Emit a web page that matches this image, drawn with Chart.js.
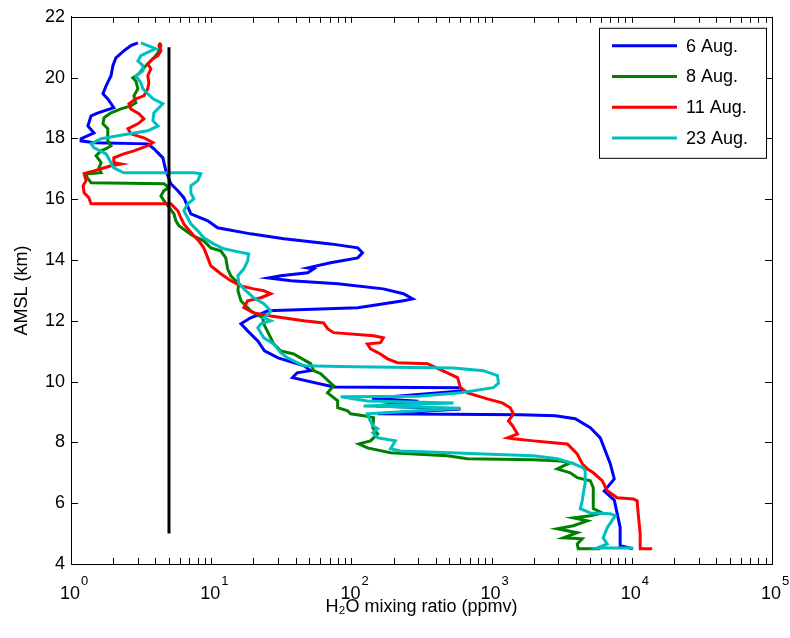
<!DOCTYPE html>
<html>
<head>
<meta charset="utf-8">
<script src="https://cdn.jsdelivr.net/npm/chart.js@4.4.1/dist/chart.umd.min.js"></script>
<style>
  html, body { margin: 0; padding: 0; background: #fff; }
  #wrap { width: 790px; height: 638px; }
</style>
</head>
<body>
<div id="wrap"><canvas id="profileChart" width="790" height="638"></canvas></div>
<script>
// series labels (legend)
const seriesLabels = ['6 Aug.', '8 Aug.', '11 Aug.', '23 Aug.'];

// 6 Aug. profile: H2O (ppmv) vs altitude (km)
const aug6X = [10200, 8260, 8260, 7500, 6360, 7500, 7020, 5960, 5060, 3950, 2850, 1600, 154, 600, 150, 300, 140, 640, 600, 75,
  38, 41, 51, 46, 30, 24, 21.5, 18.2, 16.3, 19.1, 22.6, 25.3, 111, 235, 273, 235, 169, 80, 37, 25.7,
  31.3, 48.8, 53.8, 48.8, 71, 111, 120, 111, 71, 33, 19.1, 11.1, 9.46, 7.16, 6.38, 5.78, 5.15, 4.75, 4.52, 3.9,
  3.53, 1.46, 1.18, 1.18, 1.46, 1.32, 1.39, 1.56, 2.02, 1.83, 1.69, 1.78, 1.93, 1.99, 2.09, 2.38, 2.67, 3.0];
const aug6Y = [4.5, 4.6, 5.2, 6.1, 6.4, 6.8, 7.3, 8.15, 8.48, 8.78, 8.88, 8.91, 8.94, 9.1, 9.2, 9.35, 9.45, 9.7, 9.8, 9.82,
  10.13, 10.29, 10.36, 10.52, 10.78, 11.01, 11.34, 11.67, 11.9, 12.1, 12.23, 12.33, 12.43, 12.66, 12.72, 12.89, 13.05, 13.22, 13.32, 13.41,
  13.48, 13.58, 13.71, 13.74, 13.91, 14.07, 14.24, 14.4, 14.53, 14.7, 14.86, 15.06, 15.29, 15.52, 16.05, 16.28, 16.51, 16.93, 17.36, 17.66,
  17.82, 17.86, 17.92, 17.99, 18.18, 18.41, 18.74, 18.84, 19.01, 19.3, 19.47, 19.73, 20.06, 20.39, 20.65, 20.88, 21.05, 21.14];

// 8 Aug. profile
const aug8X = [5960, 4150, 4080, 4430, 3250, 4080, 2940, 3830, 4810, 3830, 5060, 6150, 5310, 5310, 5310, 5060, 4080, 3640, 2940, 3250,
  3640, 3090, 1990, 673, 484, 190, 130, 113, 137, 154, 142, 144, 122, 98.7, 94, 79.8, 79.8, 67.6, 74.7, 60.4,
  53.8, 51.2, 38.7, 31.3, 27.9, 26.6, 23.7, 23.3, 19.1, 16.3, 15.5, 15.7, 13.8, 13.1, 12.7, 11.7, 9.93, 8.85, 7.39, 6.59,
  5.88, 5.6, 5.42, 4.6, 4.38, 4.6, 4.99, 4.6, 1.39, 1.28, 1.32, 1.64, 1.58, 1.64, 1.51, 1.64, 1.78, 1.93, 1.83, 1.83,
  1.83, 1.69, 1.72, 1.93, 2.27, 2.67, 2.9, 2.81, 3.0, 2.9, 2.76, 3.05, 3.26, 3.59, 3.9, 4.17, 4.38, 4.24];
const aug8Y = [4.5, 4.5, 4.66, 4.83, 4.86, 5.03, 5.16, 5.26, 5.42, 5.52, 5.59, 5.68, 5.82, 6.08, 6.51, 6.74, 6.84, 7.0, 7.13, 7.23,
  7.33, 7.39, 7.43, 7.46, 7.56, 7.66, 7.82, 7.95, 8.05, 8.28, 8.48, 8.81, 8.88, 8.94, 9.04, 9.14, 9.37, 9.63, 9.86, 10.26,
  10.36, 10.59, 10.91, 11.01, 11.24, 11.44, 11.9, 12.1, 12.33, 12.66, 12.99, 13.22, 13.48, 13.71, 14.07, 14.3, 14.4, 14.63, 14.8, 14.96,
  15.13, 15.29, 15.52, 15.95, 16.11, 16.28, 16.38, 16.51, 16.54, 16.77, 16.84, 16.87, 17.03, 17.2, 17.43, 17.59, 17.66, 17.76, 17.92, 18.15,
  18.32, 18.48, 18.68, 18.84, 18.97, 19.07, 19.17, 19.4, 19.63, 19.89, 19.99, 20.13, 20.29, 20.49, 20.65, 20.82, 21.05, 21.14];

// 11 Aug. profile
const aug11X = [13970, 11480, 11480, 11110, 10920, 10230, 7870, 6680, 6150, 5310, 4810, 4430, 4080, 3470, 2760, 1990, 1430, 1300, 1530, 1410,
  1320, 1430, 1360, 1190, 933, 673, 600, 571, 484, 349, 213, 181, 161, 137, 130, 161, 169, 144, 74.7, 67.6,
  63.4, 45.7, 26.6, 20.1, 17.1, 18.2, 22.6, 26.6, 23.7, 20.1, 16.3, 13.8, 11.7, 9.93, 9.46, 8.85, 8.16, 7.52, 6.81, 6.38,
  6.07, 5.78, 5.33, 5.15, 1.39, 1.34, 1.24, 1.22, 1.28, 1.24, 1.46, 1.64, 1.93, 2.27, 2.02, 2.02, 2.38, 2.81, 3.53, 3.84,
  3.31, 2.67, 2.55, 3.0, 3.31, 3.05, 2.67, 2.59, 2.9, 3.31, 3.53, 3.59, 3.53, 3.71, 3.53, 3.84, 4.17, 4.38, 4.24, 4.38];
const aug11Y = [4.5, 4.5, 4.99, 5.65, 6.08, 6.14, 6.18, 6.41, 6.74, 7.0, 7.13, 7.3, 7.62, 7.95, 7.99, 8.05, 8.12, 8.15, 8.28, 8.55,
  8.71, 8.94, 9.14, 9.3, 9.43, 9.63, 9.8, 10.13, 10.29, 10.59, 10.62, 10.75, 10.91, 11.08, 11.24, 11.28, 11.44, 11.51, 11.61, 11.74,
  11.93, 12.0, 12.16, 12.26, 12.43, 12.66, 12.76, 12.89, 12.99, 13.05, 13.15, 13.32, 13.55, 13.81, 14.07, 14.4, 14.63, 14.8, 15.03, 15.19,
  15.39, 15.62, 15.78, 15.85, 15.85, 16.05, 16.21, 16.44, 16.61, 16.84, 16.93, 17.0, 17.1, 17.16, 17.2, 17.36, 17.49, 17.59, 17.76, 17.86,
  18.02, 18.15, 18.32, 18.48, 18.64, 18.81, 18.97, 19.14, 19.3, 19.4, 19.63, 19.83, 20.06, 20.29, 20.45, 20.62, 20.72, 20.88, 21.05, 21.14];

// 23 Aug. profile
const aug23X = [10230, 5670, 6680, 6250, 6680, 7620, 7020, 5060, 4290, 4430, 4510, 4650, 4650, 4510, 3830, 2940, 1990, 874, 509, 224,
  190, 206, 169, 154, 142, 154, 142, 133, 130, 161, 600, 311, 122, 535, 130, 84, 300, 600, 1030, 1120,
  1100, 874, 535, 104, 45.7, 35.1, 31.3, 27.9, 23.7, 21.5, 22.6, 26.6, 23.7, 25.3, 26.6, 23.7, 20.1, 17.1, 15.7, 15.5,
  17.1, 18.2, 18.5, 16.3, 12.3, 10.4, 8.85, 8.03, 7.16, 6.38, 6.81, 7.52, 7.16, 7.16, 8.03, 8.43, 7.52, 2.38, 2.02, 1.93,
  1.78, 1.46, 1.39, 1.64, 2.38, 3.53, 4.17, 3.84, 3.9, 4.52, 3.84, 3.53, 3.26, 3.15, 2.9, 3.26, 3.26, 3.0, 3.15, 3.71,
  4.03, 3.53, 3.15];
const aug23Y = [4.53, 4.53, 4.66, 4.86, 5.19, 5.59, 5.65, 5.68, 5.82, 6.08, 6.31, 6.67, 7.07, 7.16, 7.3, 7.46, 7.56, 7.62, 7.66, 7.72,
  7.79, 8.05, 8.12, 8.15, 8.32, 8.45, 8.55, 8.81, 8.94, 8.97, 9.12, 9.16, 9.2, 9.3, 9.36, 9.5, 9.52, 9.63, 9.8, 9.95,
  10.2, 10.36, 10.45, 10.49, 10.52, 10.78, 10.95, 11.24, 11.44, 11.77, 11.9, 12.0, 12.1, 12.2, 12.33, 12.56, 12.76, 13.05, 13.25, 13.48,
  13.71, 13.97, 14.2, 14.25, 14.37, 14.53, 14.73, 14.96, 15.19, 15.62, 15.85, 16.01, 16.21, 16.44, 16.61, 16.84, 16.87, 16.87, 17.03, 17.2,
  17.49, 17.69, 17.82, 17.99, 18.12, 18.25, 18.41, 18.58, 18.84, 19.14, 19.3, 19.47, 19.63, 19.83, 20.06, 20.22, 20.39, 20.55, 20.72, 20.88,
  20.95, 21.05, 21.14];

// vertical reference line at 5 ppmv
const refLineX = [5, 5];
const refLineY = [5, 21];

// axis ticks
const xDecades = [1, 10, 100, 1000, 10000, 100000];
const xDecadeExps = ['0', '1', '2', '3', '4', '5'];
const xMinorSteps = [2, 3, 4, 5, 6, 7, 8, 9];
const yTickValues = [4, 6, 8, 10, 12, 14, 16, 18, 20, 22];

const FONT = '"Liberation Sans", Arial, Helvetica, sans-serif';
const colors = ['#0000ff', '#008000', '#ff0000', '#00bfbf'];

function toPoints(xs, ys) {
  return xs.map((x, i) => ({ x: x, y: ys[i] }));
}

const profiles = [[aug6X, aug6Y], [aug8X, aug8Y], [aug11X, aug11Y], [aug23X, aug23Y]];

const datasets = profiles.map((p, i) => ({
  label: seriesLabels[i],
  data: toPoints(p[0], p[1]),
  borderColor: colors[i],
  backgroundColor: colors[i],
  borderWidth: 3,
  showLine: true,
  pointRadius: 0,
  tension: 0,
  order: 4 - i
}));
datasets.push({
  label: 'ref',
  data: toPoints(refLineX, refLineY),
  borderColor: '#000',
  borderWidth: 3,
  showLine: true,
  pointRadius: 0,
  order: 0
});

// frame, inward ticks, x tick labels with exponents, legend box
const framePlugin = {
  id: 'frame',
  afterDraw(chart) {
    const ctx = chart.ctx;
    const a = chart.chartArea;
    const xs = chart.scales.x, ys = chart.scales.y;
    ctx.save();
    ctx.strokeStyle = '#000';
    ctx.lineWidth = 1;
    ctx.strokeRect(Math.round(a.left) + 0.5, Math.round(a.top) + 0.5,
      Math.round(a.right - a.left), Math.round(a.bottom - a.top));

    ctx.beginPath();
    xDecades.forEach((d, k) => {
      const steps = [1].concat(k < xDecades.length - 1 ? xMinorSteps : []);
      steps.forEach(m => {
        const px = Math.round(xs.getPixelForValue(d * m)) + 0.5;
        ctx.moveTo(px, a.bottom); ctx.lineTo(px, a.bottom - 6);
        ctx.moveTo(px, a.top); ctx.lineTo(px, a.top + 6);
      });
    });
    yTickValues.forEach(v => {
      const py = Math.round(ys.getPixelForValue(v)) + 0.5;
      ctx.moveTo(a.left, py); ctx.lineTo(a.left + 7, py);
      ctx.moveTo(a.right, py); ctx.lineTo(a.right - 7, py);
    });
    ctx.stroke();

    ctx.fillStyle = '#000';
    ctx.textBaseline = 'alphabetic';
    xDecades.forEach((d, k) => {
      const px = xs.getPixelForValue(d);
      ctx.font = '18px ' + FONT;
      ctx.textAlign = 'center';
      ctx.fillText('10', px - 1, a.bottom + 35);
      ctx.font = '13px ' + FONT;
      ctx.textAlign = 'left';
      ctx.fillText(xDecadeExps[k], px + 10, a.bottom + 21);
    });

    // legend
    const bx = a.right - 173, by = a.top + 11, bw = 167, bh = 130;
    ctx.fillStyle = '#fff';
    ctx.fillRect(bx, by, bw, bh);
    ctx.strokeRect(bx + 0.5, by + 0.5, bw, bh);
    ctx.font = '18px ' + FONT;
    ctx.textAlign = 'left';
    ctx.textBaseline = 'middle';
    seriesLabels.forEach((lab, i) => {
      const ry = by + 18 + i * 30.7;
      ctx.strokeStyle = colors[i];
      ctx.lineWidth = 3;
      ctx.beginPath();
      ctx.moveTo(bx + 13, ry); ctx.lineTo(bx + 78, ry);
      ctx.stroke();
      ctx.fillStyle = '#000';
      ctx.fillText(lab, bx + 87, ry + 1);
    });
    ctx.restore();
  }
};

const config = {
  type: 'scatter',
  data: { datasets: datasets },
  options: {
    responsive: false,
    animation: false,
    devicePixelRatio: 1,
    layout: { padding: { top: 16, right: 18, left: 0, bottom: 0 } },
    plugins: { legend: { display: false }, tooltip: { enabled: false } },
    scales: {
      x: {
        type: 'logarithmic',
        min: 1,
        max: 100000,
        grid: { display: false, drawTicks: false },
        border: { display: true, color: '#000' },
        ticks: { display: false },
        title: {
          display: true,
          text: 'H\u2082O mixing ratio (ppmv)',
          color: '#000',
          font: { family: FONT, size: 18 },
          padding: { top: 0, bottom: 20 }
        },
        afterFit: s => { s.height = 74; }
      },
      y: {
        min: 4,
        max: 22,
        grid: { display: false, drawTicks: false },
        border: { display: true, color: '#000' },
        ticks: { stepSize: 2, color: '#000', font: { family: FONT, size: 18 }, padding: 6 },
        title: {
          display: true,
          text: 'AMSL (km)',
          color: '#000',
          font: { family: FONT, size: 18 },
          padding: { top: 11, bottom: 0 }
        },
        afterFit: s => { s.width = 71; }
      }
    }
  },
  plugins: [framePlugin]
};

const profileChart = new Chart(document.getElementById('profileChart'), config);
</script>
</body>
</html>
